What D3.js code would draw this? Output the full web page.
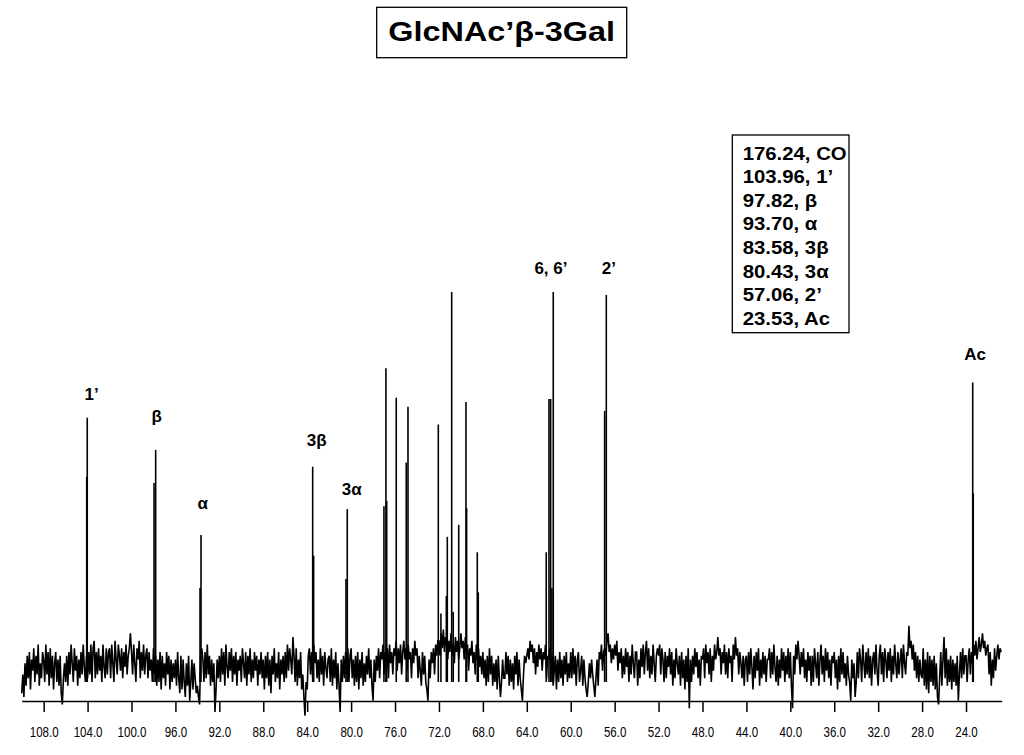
<!DOCTYPE html>
<html><head><meta charset="utf-8">
<script src="https://cdn.jsdelivr.net/npm/d3@7"></script>
<style>
html,body{margin:0;padding:0;background:#fff;}
svg{display:block;}
text{font-family:"Liberation Sans",Arial,Helvetica,sans-serif;fill:#000;}
</style></head>
<body>
<svg id="chart" width="1024" height="755"></svg>
<script>
// ---------- data ----------
const titleText = "GlcNAc’β-3Gal";
const tickValues = [108,104,100,96,92,88,84,80,76,72,68,64,60,56,52,48,44,40,36,32,28,24];
const legendLines = ["176.24, CO","103.96, 1’","97.82, β","93.70, α","83.58, 3β","80.43, 3α","57.06, 2’","23.53, Ac"];

// resonance sticks: chemical shift (ppm) and relative intensity
const peakShifts  = [104.03,104.08,97.80,97.95,93.67,93.76,83.50,83.41,80.35,80.47,
                     76.83,77.01,76.76,75.89,74.82,74.98,72.06,71.82,71.24,71.33,
                     70.84,70.70,70.20,69.54,69.48,68.51,68.42,61.59,61.83,61.98,
                     62.23,61.71,56.76,56.91,23.39,23.34];
const peakHeights = [66.5,50.7,57.9,49.1,35.2,21.1,53.4,29.7,42.1,23.5,
                     79.7,42.9,44.3,71.8,69.4,54.5,64.7,14.3,34.7,18.9,
                     100,14.7,37.9,70.7,42.3,30.6,19.9,100,71.5,71.5,
                     30.6,21.1,99.2,68.3,75.9,46.3];

// peak annotations
const labelTexts   = ["1’","β","α","3β","3α","6, 6’","2’","Ac"];
const labelShifts  = [103.63,97.71,93.52,83.14,79.95,61.80,56.52,23.18];
const labelHeights = [71.1,65.3,42.1,58.9,45.9,104.8,104.8,81.9];

// baseline noise trace, sampled every 0.1 ppm from 110.0 ppm
const noiseStart = 110.0, noiseStep = 0.1;
const noise = [
-7,-2,-8,1,-5,3,-3,4,-6,2,-1,5,-4,3,-2,6,-5,1,-3,4,
2,-4,6,-2,4,-5,5,-3,3,-6,1,4,-4,2,-5,3,-7,-10,-3,1,
-4,3,-5,4,-2,6,1,-4,5,-1,3,-5,2,-3,4,-2,6,0,-4,3,
-3,4,-2,6,-4,5,7,-3,4,-2,5,-1,3,-4,6,0,-3,5,-2,4,
5,-3,6,1,-4,7,2,-2,6,3,-1,5,-3,4,0,6,-2,3,5,9,
4,-2,6,1,-4,5,2,7,-3,4,-1,6,-2,3,5,-3,4,-1,2,-4,
5,-2,3,-5,2,-4,4,-6,3,-3,1,-5,4,-2,3,-6,2,-4,1,-3,
2,-5,4,-3,-7,3,-6,2,-4,-8,1,-5,3,-9,-4,2,-6,1,-3,-7,
-5,-8,-10,3,5,2,-4,4,-3,6,-2,3,-5,2,-4,1,-12,-6,2,-3,
3,-4,5,-2,4,-5,6,0,-3,4,-1,5,-4,3,-2,4,-5,2,-1,3,
-4,5,1,-3,4,-5,3,-2,5,-4,2,-3,4,-1,3,-5,2,-2,4,-3,
2,-6,3,-3,4,-5,2,-7,3,-2,5,-4,1,-3,4,-6,2,-2,3,-4,
4,-3,6,-1,5,2,-2,8,3,-4,5,-5,2,-3,4,-6,-2,-8,-13,-4,
-6,3,5,-2,4,-3,6,1,4,-3,2,-4,5,-2,3,-5,4,0,-3,2,
3,-4,5,-5,2,-3,4,-6,1,-5,-12,2,-4,3,-3,4,-2,5,-4,3,
5,-3,2,-5,3,-4,4,-6,2,-3,4,-5,1,-4,3,-2,5,-3,2,-5,
-9,2,-4,3,-1,5,-3,4,2,6,-2,4,0,5,-3,6,1,4,-2,5,
3,7,-1,5,1,6,-2,4,7,2,5,-1,6,2,4,-3,5,1,7,3,
5,-3,3,-1,-5,4,-2,3,-4,-6,-9,2,-3,4,1,5,-2,6,3,7,
7,3,9,5,10,4,8,6,2,7,4,9,3,6,1,8,4,7,2,5,
9,5,7,2,8,4,6,-1,5,3,7,1,4,-2,6,2,5,0,3,-2,
4,-3,2,-5,3,-4,5,-2,3,-5,1,-4,2,-6,3,-3,-8,-4,2,-3,
-3,4,-2,3,-5,2,-4,1,-6,3,-2,4,-5,2,-3,-6,-9,-2,3,1,
3,5,2,7,4,6,1,5,-2,4,0,6,2,5,-1,4,2,6,-3,3,
2,5,-2,3,-5,-1,3,-6,2,-4,4,-3,2,-5,3,-2,4,-4,1,-3,
4,-3,5,-2,3,-5,2,4,-4,-1,3,-5,2,-3,-6,-8,-4,1,-3,2,
-2,-5,-8,-3,2,-5,4,2,6,-1,4,5,3,7,9,4,6,1,5,2,
6,3,7,-1,4,1,5,-3,3,-2,5,0,4,-4,3,-2,6,1,-3,4,
4,-5,2,-3,5,0,6,-2,4,7,-1,5,-3,3,-2,6,1,-4,3,5,
3,6,-2,5,2,-4,4,-3,3,0,5,-2,4,-5,2,-3,5,1,-2,3,
-5,4,-3,2,-6,3,-4,5,-11,2,-4,3,-2,5,0,4,-3,2,-5,3,
2,5,-3,6,1,4,-2,5,-4,3,-1,6,2,4,8,3,5,-2,4,1,
6,-2,4,-3,5,1,3,-4,6,2,8,3,5,-2,4,1,-3,3,-5,2,
3,-4,4,-2,5,0,-6,3,-3,4,-1,5,-5,2,-3,4,-2,3,-4,2,
2,5,-3,4,-2,6,0,-4,3,-5,2,-3,5,-1,4,-4,3,-2,5,-3,
4,-5,-11,3,-2,6,2,7,3,-2,4,0,5,-3,2,-4,4,-1,3,-5,
3,-4,5,1,-3,4,-5,2,6,-2,3,-4,5,-1,4,-3,2,-5,3,1,
4,-3,2,-6,3,-4,5,-2,4,-3,1,-5,3,-2,-4,-9,2,-3,1,-8,
-4,4,-3,5,2,-4,6,1,-3,4,-2,5,-3,3,-5,2,4,-2,6,-1,
-5,3,6,-2,4,-4,5,2,-3,4,-1,5,-4,3,-2,6,1,-3,4,-2,
2,5,-3,6,1,-2,4,3,11,5,7,2,6,-1,4,-3,3,-4,2,-2,
-3,5,-5,2,-6,4,-7,3,-4,2,-5,3,-6,1,-8,-10,-3,4,-5,2,
8,-3,5,-5,2,-4,3,-6,2,-4,1,-5,3,-9,-2,4,-3,5,-2,3,
3,-4,2,5,-2,4,1,6,3,7,2,5,8,4,6,9,5,7,3,5,
6,-2,4,-5,2,-3,5,-1,3,6,2,5,4
];

// ---------- drawing ----------
const svg = d3.select("#chart");
const x = d3.scaleLinear().domain([110.0, 20.75]).range([21.7, 1001.7]);
const y = d3.scaleLinear().domain([0, 100]).range([667, 292]);
const axisY = 701;

function stretch(sel, factor){
  sel.each(function(){
    const w = this.getComputedTextLength();
    d3.select(this).attr("textLength", w*factor).attr("lengthAdjust","spacingAndGlyphs");
  });
}

// title
svg.append("rect").attr("x",376.7).attr("y",7.3).attr("width",250).attr("height",50.4)
  .attr("fill","none").attr("stroke","#000").attr("stroke-width",1.3);
svg.append("text").attr("x",501.7).attr("y",41).attr("text-anchor","middle")
  .attr("font-size",27).attr("font-weight","bold").text(titleText)
  .attr("textLength",226.7).attr("lengthAdjust","spacingAndGlyphs");

// legend box
svg.append("rect").attr("x",732.3).attr("y",135).attr("width",116.7).attr("height",197.7)
  .attr("fill","none").attr("stroke","#000").attr("stroke-width",1.3);
const lg = svg.append("g").selectAll("text").data(legendLines).join("text")
  .attr("x",742.7).attr("y",(d,i)=>159.7+i*23.57)
  .attr("font-size",19).attr("font-weight","bold").text(d=>d);
stretch(lg, 1.07);

// noise trace
const line = d3.line().x((d,i)=>x(noiseStart - i*noiseStep)).y(d=>y(d));
svg.append("path").datum(noise).attr("d",line)
  .attr("fill","none").attr("stroke","#000").attr("stroke-width",1.6);

// peaks
svg.append("g").selectAll("line").data(peakShifts).join("line")
  .attr("x1",d=>x(d)).attr("x2",d=>x(d))
  .attr("y1",y(-4)).attr("y2",(d,i)=>y(peakHeights[i]))
  .attr("stroke","#000").attr("stroke-width",1.6);

// peak labels
svg.append("g").selectAll("text").data(labelTexts).join("text")
  .attr("x",(d,i)=>x(labelShifts[i])).attr("y",(d,i)=>y(labelHeights[i]))
  .attr("text-anchor","middle").attr("font-size",17).attr("font-weight","bold").text(d=>d);

// axis
const axis = d3.axisBottom(x).tickValues(tickValues).tickFormat(d3.format(".1f"))
  .tickSize(11).tickSizeOuter(0).tickPadding(14);
const ag = svg.append("g").attr("transform",`translate(0,${axisY})`).call(axis);
ag.select(".domain").attr("stroke","#000").attr("stroke-width",1.5);
ag.selectAll(".tick line").attr("stroke","#000").attr("stroke-width",1.5);
const tl = ag.selectAll(".tick text").attr("font-size",15).attr("font-family","Liberation Sans, Arial, sans-serif").attr("fill","#000");
stretch(tl, 0.77);
</script>
</body></html>
